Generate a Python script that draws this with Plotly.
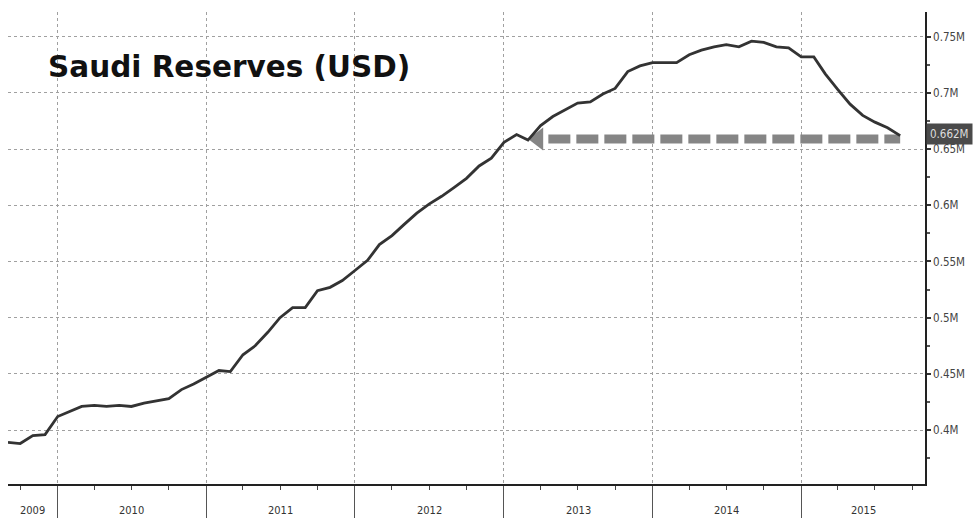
import plotly.graph_objects as go
import pandas as pd

# ---- data ----
dates = pd.date_range("2009-09-01", "2015-09-01", freq="MS").strftime("%Y-%m-%d").tolist()
reserves = [
    0.389, 0.388, 0.395, 0.396,                                                  # 2009 Sep-Dec
    0.412, 0.417, 0.421, 0.422, 0.421, 0.422, 0.421, 0.424, 0.426, 0.428, 0.436, 0.441,  # 2010
    0.447, 0.453, 0.452, 0.467, 0.475, 0.487, 0.500, 0.509, 0.509, 0.524, 0.527, 0.533,  # 2011
    0.542, 0.551, 0.565, 0.573, 0.583, 0.593, 0.601, 0.608, 0.616, 0.624, 0.635, 0.642,  # 2012
    0.656, 0.663, 0.658, 0.671, 0.679, 0.685, 0.691, 0.692, 0.699, 0.704, 0.719, 0.724,  # 2013
    0.727, 0.727, 0.727, 0.734, 0.738, 0.741, 0.743, 0.741, 0.746, 0.745, 0.741, 0.740,  # 2014
    0.732, 0.732, 0.717, 0.703, 0.690, 0.680, 0.674, 0.669, 0.662,                      # 2015
]
title_text = "Saudi Reserves (USD)"
last_label = "0.662M"
arrow_level = 0.659
arrow_dates = ["2013-04-20", "2015-09-01"]
arrow_head_date = "2013-03-26"

y_tickvals = [0.40, 0.45, 0.50, 0.55, 0.60, 0.65, 0.70, 0.75]
y_ticktext = ["0.4M", "0.45M", "0.5M", "0.55M", "0.6M", "0.65M", "0.7M", "0.75M"]
year_labels = ["2009", "2010", "2011", "2012", "2013", "2014", "2015"]
x_range = ["2009-09-01", "2015-11-01"]
y_range = [0.352, 0.772]

fig = go.Figure()

# dashed arrow (level of latest value)
fig.add_trace(go.Scatter(
    x=arrow_dates, y=[arrow_level] * len(arrow_dates), mode="lines",
    line=dict(color="#858585", width=9, dash="22px,6px"),
    hoverinfo="skip", showlegend=False,
))
fig.add_trace(go.Scatter(
    x=[arrow_head_date], y=[arrow_level], mode="markers",
    marker=dict(symbol="triangle-left", size=20, color="#858585"),
    hoverinfo="skip", showlegend=False,
))

# main line
fig.add_trace(go.Scatter(
    x=dates, y=reserves, mode="lines",
    line=dict(color="#333333", width=2.8),
    showlegend=False,
))

# year labels centered in visible portion of each year
x0 = pd.Timestamp(x_range[0]); x1 = pd.Timestamp(x_range[1])
annotations = []
for lab in year_labels:
    s = max(pd.Timestamp(f"{lab}-01-01"), x0)
    e = min(pd.Timestamp(f"{int(lab)+1}-01-01"), x1)
    mid = s + (e - s) / 2
    annotations.append(dict(
        x=mid.strftime("%Y-%m-%d"), y=-0.056, xref="x", yref="paper",
        text=lab, showarrow=False, yanchor="middle",
        font=dict(family="DejaVu Sans Condensed, DejaVu Sans", size=11, color="#333333"),
    ))

annotations.append(dict(
    x=0.041, y=0.883, xref="paper", yref="paper", text=f"<b>{title_text}</b>",
    showarrow=False, xanchor="left", yanchor="middle",
    font=dict(family="DejaVu Sans", size=29.5, color="#111111"),
))
annotations.append(dict(
    x=1, y=reserves[-1], xref="paper", yref="y", text=last_label,
    showarrow=False, xanchor="left", yanchor="middle", xshift=1, yshift=2,
    bgcolor="#4a4a4a", borderpad=3,
    font=dict(family="DejaVu Sans Condensed, DejaVu Sans", size=11.5, color="#dddddd"),
))

fig.update_layout(
    width=973, height=524,
    margin=dict(l=8, r=47, t=12, b=32),
    paper_bgcolor="white", plot_bgcolor="white",
    annotations=annotations,
    xaxis=dict(
        type="date", range=x_range,
        tick0="2010-01-01", dtick="M12",
        showgrid=True, gridcolor="#a0a0a0", griddash="dot", gridwidth=1,
        ticks="outside", ticklen=32, tickcolor="#555555", tickwidth=1,
        showticklabels=False,
        showline=True, linecolor="#222222", linewidth=1.5,
        minor=dict(dtick="M3", tick0="2010-01-01", ticks="outside", ticklen=4,
                   tickcolor="#444444", showgrid=False),
        zeroline=False,
    ),
    yaxis=dict(
        side="right", range=y_range,
        tickvals=y_tickvals, ticktext=y_ticktext,
        showgrid=True, gridcolor="#a0a0a0", griddash="dot", gridwidth=1,
        ticks="outside", ticklen=4, tickwidth=2, tickcolor="#333333",
        showline=True, linecolor="#222222", linewidth=1.5,
        tickfont=dict(family="DejaVu Sans Condensed, DejaVu Sans", size=11.5, color="#444444"),
        minor=dict(tickvals=[0.375, 0.425, 0.475, 0.525, 0.575, 0.625, 0.675, 0.725],
                   ticks="outside", ticklen=3, tickcolor="#555555", showgrid=False),
        zeroline=False,
    ),
)

fig.write_html(
    "out.html",
    config={"displayModeBar": False},
    post_script="document.body.style.margin='0';document.body.style.overflow='hidden';",
)
